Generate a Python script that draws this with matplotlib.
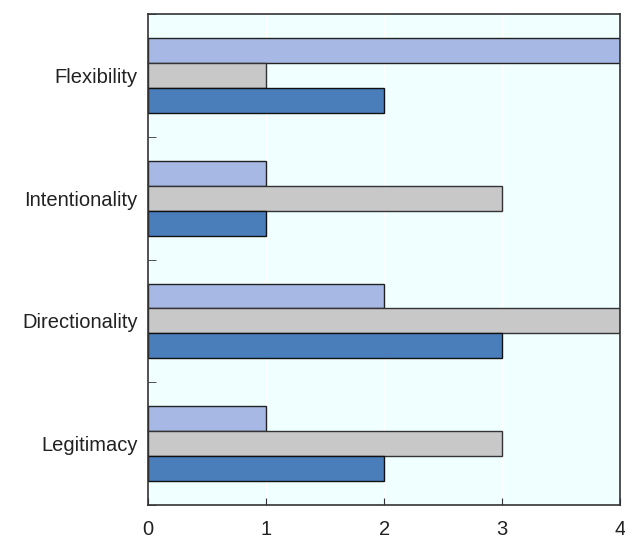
import numpy as np
import matplotlib
matplotlib.use("Agg")
import matplotlib.pyplot as plt

categories = ["Flexibility", "Intentionality", "Directionality", "Legitimacy"]
series_light = [4, 1, 2, 1]
series_gray = [1, 3, 4, 3]
series_blue = [2, 1, 3, 2]

fig = plt.figure(figsize=(6.25, 5.47), dpi=100)
ax = fig.add_axes([0.237, 0.077, 0.755, 0.897])
ax.set_facecolor("#F0FFFF")

y = np.arange(len(categories))
h = 0.203
ax.barh(y - h, series_light, height=h, color="#A6B8E3", edgecolor="#222222", linewidth=1)
ax.barh(y, series_gray, height=h, color="#C8C8C8", edgecolor="#333333", linewidth=1)
ax.barh(y + h, series_blue, height=h, color="#4A7EBB", edgecolor="#111111", linewidth=1)

ax.set_xlim(0, 4)
ax.set_ylim(len(categories) - 0.5, -0.5)
ax.set_xticks([0, 1, 2, 3, 4])
ax.set_yticks(y)
ax.set_yticklabels(categories, fontsize=14.5, family="Liberation Sans", color="#222222")
ax.set_yticks(np.arange(-0.5, len(categories), 1), minor=True)
ax.tick_params(axis="y", which="major", length=0, pad=7.5)
ax.tick_params(axis="y", which="minor", direction="in", length=6, color="#333333")
ax.tick_params(axis="x", direction="in", length=5, pad=11, labelsize=14.5, color="#333333", labelcolor="#222222")
for lbl in ax.get_xticklabels():
    lbl.set_family("Liberation Sans")
ax.grid(axis="x", color="white", linewidth=1)
ax.set_axisbelow(True)
for s in ax.spines.values():
    s.set_color("#333333")
    s.set_linewidth(1.2)

fig.savefig("out.png", dpi=100)
